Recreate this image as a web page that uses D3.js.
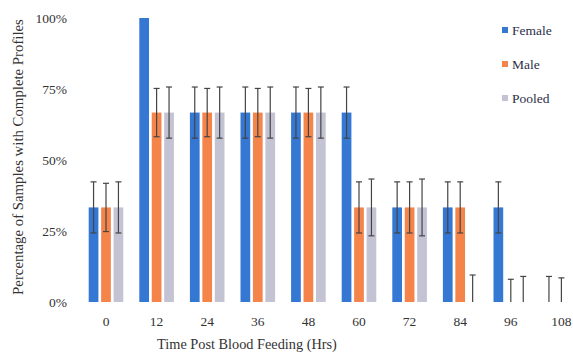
<!DOCTYPE html>
<html>
<head>
<meta charset="utf-8">
<script src="https://cdn.jsdelivr.net/npm/d3@7"></script>
<style>
  body { margin: 0; background: #fff; }
</style>
</head>
<body>
<div id="container"></div>
<script>
const hours = ["0", "12", "24", "36", "48", "60", "72", "84", "96", "108"];
const seriesNames = ["Female", "Male", "Pooled"];
const seriesColors = ["#3478d4", "#f5844a", "#c4c3d3"];

const femaleValues = [33.3, 100, 66.7, 66.7, 66.7, 66.7, 33.3, 33.3, 33.3, 0];
const maleValues = [33.3, 66.7, 66.7, 66.7, 66.7, 33.3, 33.3, 33.3, 0, 0];
const pooledValues = [33.3, 66.7, 66.7, 66.7, 66.7, 33.3, 33.3, 0, 0, null];

const femaleErrors = [9, 0, 9, 9, 9, 9, 9, 9, 9, 9];
const maleErrors = [8.5, 8.5, 8.5, 8.5, 8.5, 9, 9, 9, 8, 8.5];
const pooledErrors = [9, 9, 9, 9, 9, 10, 10, 9.5, 9, null];

const yTicks = [0, 25, 50, 75, 100];

const values = [femaleValues, maleValues, pooledValues];
const errors = [femaleErrors, maleErrors, pooledErrors];

const w = 573;
const h = 360;
const serif = "'Liberation Serif', 'Times New Roman', Times, 'DejaVu Serif', serif";

const rows = [];
hours.forEach((hr, i) => {
  seriesNames.forEach((s, j) => {
    if (values[j][i] !== null) {
      rows.push({hour: hr, series: s, idx: j, value: values[j][i], err: errors[j][i]});
    }
  });
});

const xScale = d3.scaleBand()
  .domain(hours)
  .range([80.7, 586.7])
  .paddingInner(0)
  .paddingOuter(0);

const xSub = d3.scaleBand()
  .domain(seriesNames)
  .range([8, xScale.bandwidth() - 8])
  .paddingInner(0.22);

const yScale = d3.scaleLinear()
  .domain([0, 100])
  .range([302, 18]);

const svg = d3.select("#container")
  .append("svg")
  .attr("width", w)
  .attr("height", h);

// y tick labels only, no axis line
const yAxis = d3.axisLeft(yScale)
  .tickValues(yTicks)
  .tickFormat(d => d + "%")
  .tickSize(0)
  .tickPadding(0);

svg.append("g")
  .attr("transform", "translate(67,0)")
  .call(yAxis)
  .call(g => g.select(".domain").remove())
  .selectAll("text")
  .style("font-family", serif)
  .style("font-size", "13.5px")
  .attr("fill", "#333");

const xAxis = d3.axisBottom(xScale)
  .tickSize(0)
  .tickPadding(0);

svg.append("g")
  .attr("transform", "translate(0,316)")
  .call(xAxis)
  .call(g => g.select(".domain").remove())
  .selectAll("text")
  .style("font-family", serif)
  .style("font-size", "13.5px")
  .attr("fill", "#333");

svg.append("text")
  .text("Percentage of Samples with Complete Profiles")
  .attr("transform", "translate(23,157)rotate(-90)")
  .attr("text-anchor", "middle")
  .style("font-family", serif)
  .style("font-size", "14.8px")
  .attr("fill", "#333");

svg.append("text")
  .text("Time Post Blood Feeding (Hrs)")
  .attr("x", 247)
  .attr("y", 349)
  .attr("text-anchor", "middle")
  .style("font-family", serif)
  .style("font-size", "14.3px")
  .attr("fill", "#333");

const groups = svg.selectAll(".bar")
  .data(rows)
  .enter()
  .append("g")
  .attr("transform", d => `translate(${xScale(d.hour) + xSub(d.series)},0)`);

groups.append("rect")
  .attr("x", 0)
  .attr("y", d => yScale(d.value))
  .attr("width", xSub.bandwidth())
  .attr("height", d => yScale(0) - yScale(d.value))
  .attr("fill", d => seriesColors[d.idx]);

const errRows = groups.filter(d => d.err > 0);
const cx = xSub.bandwidth() / 2;

errRows.append("line")
  .attr("x1", cx).attr("x2", cx)
  .attr("y1", d => yScale(d.value + d.err))
  .attr("y2", d => yScale(Math.max(0, d.value - d.err)))
  .attr("stroke", "#444")
  .attr("stroke-width", 1.2);

errRows.append("line")
  .attr("x1", cx - 3).attr("x2", cx + 3)
  .attr("y1", d => yScale(d.value + d.err))
  .attr("y2", d => yScale(d.value + d.err))
  .attr("stroke", "#444")
  .attr("stroke-width", 1.2);

errRows.filter(d => d.value - d.err > 0)
  .append("line")
  .attr("x1", cx - 3).attr("x2", cx + 3)
  .attr("y1", d => yScale(d.value - d.err))
  .attr("y2", d => yScale(d.value - d.err))
  .attr("stroke", "#444")
  .attr("stroke-width", 1.2);

const legend = svg.append("g")
  .attr("transform", "translate(502,27)");

const legendItems = legend.selectAll("g")
  .data(seriesNames)
  .enter()
  .append("g")
  .attr("transform", (d, i) => `translate(0,${i * 34})`);

legendItems.append("rect")
  .attr("width", 6)
  .attr("height", 6)
  .attr("fill", (d, i) => seriesColors[i]);

legendItems.append("text")
  .text(d => d)
  .attr("x", 10)
  .attr("y", 7.5)
  .style("font-family", serif)
  .style("font-size", "13.5px")
  .attr("fill", "#2b2f4a");
</script>
</body>
</html>
